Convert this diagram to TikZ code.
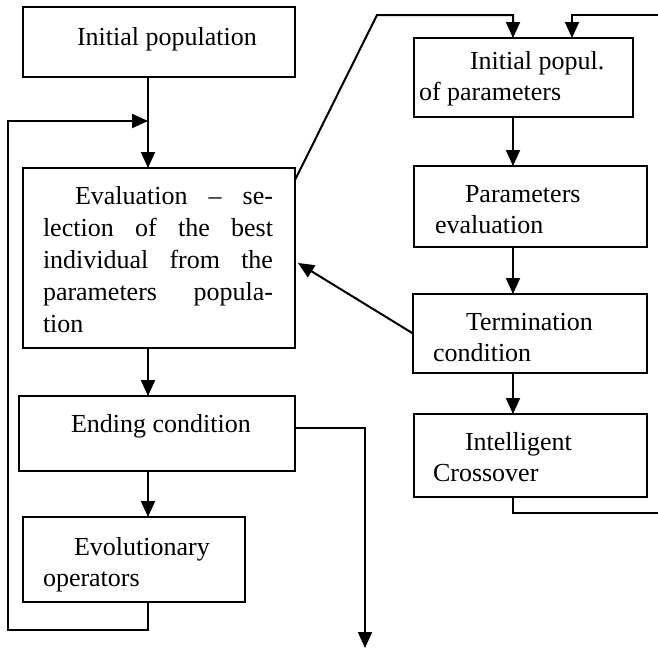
\documentclass[tikz,border=0pt]{standalone}
\usepackage{fontspec}
\setmainfont{Liberation Serif}
\usetikzlibrary{arrows.meta}
\tolerance=10000
\hbadness=10000
\begin{document}
\begin{tikzpicture}[x=1pt,y=-1pt,
  box/.style={draw, line width=1.6pt, inner sep=0pt, outer sep=0pt},
  txt/.style={anchor=base west, inner sep=0pt, outer sep=0pt,
              text width=220pt, font=\fontsize{26}{31.5}\selectfont,
              execute at begin node={\spaceskip=0pt\xspaceskip=0pt\relax}},
  link/.style={line width=2pt},
  arr/.style={link, -{Triangle[length=16pt,width=14pt]}}]
\useasboundingbox (0,0) rectangle (658,651);

% main loop boxes
\node[box, minimum width=272pt, minimum height=70pt]  (ip)  at (159,42)    {};
\node[box, minimum width=272pt, minimum height=180pt] (ev)  at (159,258)   {};
\node[box, minimum width=276pt, minimum height=75pt]  (end) at (157,433.5) {};
\node[box, minimum width=222pt, minimum height=85pt]  (evo) at (134,559.5) {};

% parameter tuning boxes
\node[box, minimum width=219pt, minimum height=79pt] (ipp) at (523.5,77.5)  {};
\node[box, minimum width=233pt, minimum height=81pt] (pe)  at (530.5,206.5) {};
\node[box, minimum width=234pt, minimum height=79pt] (tc)  at (530,333.5)   {};
\node[box, minimum width=233pt, minimum height=83pt] (ic)  at (530.5,455.5) {};

% texts
\node[txt] (tip)  at (77,45)  {Initial population};
\node[txt, text width=230pt, align=justify, font=\fontsize{26}{32}\selectfont] (tev) at (43,204)
  {\hspace*{32pt}Evaluation – se-\linebreak lection of the best\linebreak
   individual from the\linebreak parameters popula-\linebreak tion};
\node[txt] (tend) at (71,432) {Ending condition};
\node[txt] (tevo) at (43,555) {\hspace*{31pt}Evolutionary\\operators};
\node[txt] (tipp) at (419,69) {\hspace*{51pt}Initial popul.\\of parameters};
\node[txt] (tpe)  at (435,202) {\hspace*{30pt}Parameters\\evaluation};
\node[txt] (ttc)  at (433,330) {\hspace*{33pt}Termination\\condition};
\node[txt] (tic)  at (433,450) {\hspace*{32pt}Intelligent\\Crossover};

% routing points
\coordinate (spine)  at (148,0);
\coordinate (spineB) at (513,0);
\coordinate (spineC) at (572,0);
\coordinate (merge)  at (148,121);
\coordinate (loopL)  at (8,630);
\coordinate (exitEnd) at (365,648);
\coordinate (kink)   at (377,15);
\coordinate (inR)    at (658,15);
\coordinate (outR)   at (658,513);

% main flow
\draw[arr] (ip.south -| spine) -- (ev.north -| spine);
\draw[arr] (ev.south -| spine) -- (end.north -| spine);
\draw[arr] (end.south -| spine) -- (evo.north -| spine);
\draw[arr] (evo.south -| spine) |- (loopL) |- (merge);
\draw[arr] ([yshift=5.5pt]end.east) -| (exitEnd);

% parameter tuning flow
\draw[arr] ([yshift=-12pt]ev.north east) -- (kink) -| (ipp.north -| spineB);
\draw[arr] (inR) -| (ipp.north -| spineC);
\draw[arr] (ipp.south -| spineB) -- (pe.north -| spineB);
\draw[arr] (pe.south -| spineB) -- (tc.north -| spineB);
\draw[arr] (tc.south -| spineB) -- (ic.north -| spineB);
\draw[arr] (tc.west) -- ([xshift=3pt,yshift=-5pt]ev.east);
\draw[link] (ic.south -| spineB) |- (outR);
\end{tikzpicture}
\end{document}
